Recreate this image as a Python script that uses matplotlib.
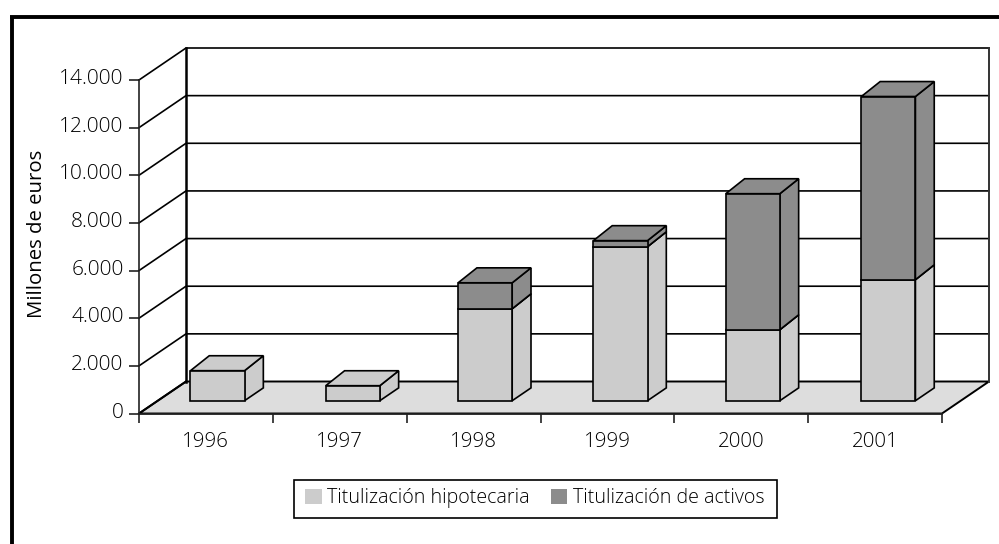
import matplotlib
matplotlib.use('Agg')
import matplotlib.pyplot as plt
from matplotlib.lines import Line2D
from matplotlib.patches import Patch, Rectangle
from matplotlib.transforms import ScaledTranslation

plt.rcParams['font.family'] = ['Open Sans', 'DejaVu Sans']
plt.rcParams['font.weight'] = 'light'

# data
years = ['1996', '1997', '1998', '1999', '2000', '2001']
hipotecaria = [1260, 630, 3860, 6465, 2980, 5080]
activos = [0, 0, 1090, 255, 5710, 7690]
y_ticks = [0, 2000, 4000, 6000, 8000, 10000, 12000, 14000]
y_labels = ['0', '2.000', '4.000', '6.000', '8.000', '10.000', '12.000', '14.000']

# colours
C_LIGHT = '#cccccc'
C_DARK = '#8c8c8c'
C_FLOOR = '#dddddd'
C_TEXT = '#000000'

W, H = 999, 544

fig = plt.figure(figsize=(W / 100, H / 100), dpi=100)
# axes = front plane of the fake 3d box
ax = fig.add_axes([139 / W, 1 - 413.5 / H, (942 - 139) / W, (413.5 - 80) / H])
ax.set_xlim(0, 6)
ax.set_ylim(0, 14000)

# shift of the back wall, in data units
DX = 47 / 133.8
DY = 32 / (333.5 / 14000)
# bars stand between these depths
D_FRONT = 0.4
D_BACK = 0.8
BAR_LEFT = 0.244
BAR_W = 0.404
# the original has slightly taller backs on its boxes and uneven rounding of bar positions
TOP_EXTRA = 90
BAR_NUDGE = [0, 0.011, 0, 0.011, 0, 0.013]


def shift(x, y, d):
    return x + d * DX, y + d * DY


def face(pts, color, z, lw=1.2):
    xs = [p[0] for p in pts]
    ys = [p[1] for p in pts]
    ax.fill(xs, ys, facecolor=color, edgecolor='black', linewidth=lw,
            zorder=z, clip_on=False, joinstyle='miter')


def box(i, bottom, height, color, z):
    x0 = i + BAR_LEFT + BAR_NUDGE[i]
    x1 = x0 + BAR_W
    top = bottom + height
    back_bottom = bottom + TOP_EXTRA if bottom > 0 else bottom
    back_top = top + TOP_EXTRA
    # side
    face([shift(x1, bottom, D_FRONT), shift(x1, back_bottom, D_BACK),
          shift(x1, back_top, D_BACK), shift(x1, top, D_FRONT)], color, z)
    # top
    face([shift(x0, top, D_FRONT), shift(x1, top, D_FRONT),
          shift(x1, back_top, D_BACK), shift(x0, back_top, D_BACK)], color, z)
    # front
    face([shift(x0, bottom, D_FRONT), shift(x1, bottom, D_FRONT),
          shift(x1, top, D_FRONT), shift(x0, top, D_FRONT)], color, z)


# floor
face([(0, 0), (6, 0), shift(6, 0, 1), shift(0, 0, 1)], C_FLOOR, 1, lw=1.4)

# grid on back wall and left wall
for v in y_ticks[1:]:
    ax.plot(*zip(shift(0, v, 0), shift(0, v, 1), shift(6, v, 1)),
            color='black', lw=1.2, zorder=2, clip_on=False)

# walls
ax.plot(*zip(shift(0, 0, 1), shift(0, 14000, 1)), color='black', lw=1.8, zorder=2, clip_on=False)
ax.plot(*zip(shift(6, 0, 1), shift(6, 14000, 1)), color='#333333', lw=1.4, zorder=2, clip_on=False)
ax.plot(*zip(shift(0, 0, 0), shift(0, 0, 1)), color='black', lw=1.4, zorder=2, clip_on=False)

# bars
for i in range(len(years)):
    z = 3 + i
    box(i, 0, hipotecaria[i], C_LIGHT, z)
    if activos[i] > 0:
        box(i, hipotecaria[i], activos[i], C_DARK, z + 0.5)

# axes
for s in ['top', 'right']:
    ax.spines[s].set_visible(False)
ax.patch.set_visible(False)
for s in ['left', 'bottom']:
    ax.spines[s].set_linewidth(1.2)
    ax.spines[s].set_color('#222222')
ax.set_xticks(range(7))
ax.set_xticklabels([])
ax.set_xticks([i + 0.5 for i in range(6)], minor=True)
ax.set_xticklabels(years, minor=True, fontsize=14.8, color=C_TEXT)
ax.tick_params(axis='x', which='major', length=6.5, width=1.2, color='#222222')
ax.tick_params(axis='x', which='minor', length=0, pad=13)
ax.set_yticks(y_ticks)
ax.set_yticklabels(y_labels, fontsize=15, color=C_TEXT)
ax.tick_params(axis='y', length=7, width=1.2, color='#222222', pad=4)
# labels sit a little above their ticks in the original
up = ScaledTranslation(0, 3.5 / 100, fig.dpi_scale_trans)
for lab in ax.get_yticklabels():
    lab.set_transform(lab.get_transform() + up)
ax.set_ylabel('Millones de euros', fontsize=14.7, color=C_TEXT)
ax.yaxis.set_label_coords((47 - 139) / (942 - 139), (413.5 - 234) / 333.5)

# legend, its frame is drawn apart because it is wider than legend padding allows
fig.add_artist(Rectangle((293.5 / W, 1 - 517.5 / H), 483 / W, 37.5 / H, facecolor='white',
                         edgecolor='black', linewidth=1.2, transform=fig.transFigure))
handles = [Patch(facecolor=C_LIGHT, edgecolor='none', label='Titulización hipotecaria'),
           Patch(facecolor=C_DARK, edgecolor='none', label='Titulización de activos')]
leg = fig.legend(handles=handles, ncol=2, loc='center', bbox_to_anchor=(535 / W, 1 - 498.3 / H),
                 fontsize=14.1, frameon=False, handlelength=0.82, handleheight=0.82,
                 handletextpad=0.3, columnspacing=1.07, borderpad=0, labelcolor=C_TEXT)

# outer frame, open at right and bottom
fig.add_artist(Line2D([11.8 / W, 11.8 / W], [0, 1 - 16.5 / H], color='black', lw=2.8,
                      transform=fig.transFigure, solid_capstyle='butt'))
fig.add_artist(Line2D([10 / W, 1], [1 - 17 / H, 1 - 17 / H], color='black', lw=2.8,
                      transform=fig.transFigure, solid_capstyle='butt'))

fig.savefig('out.png', dpi=100)
